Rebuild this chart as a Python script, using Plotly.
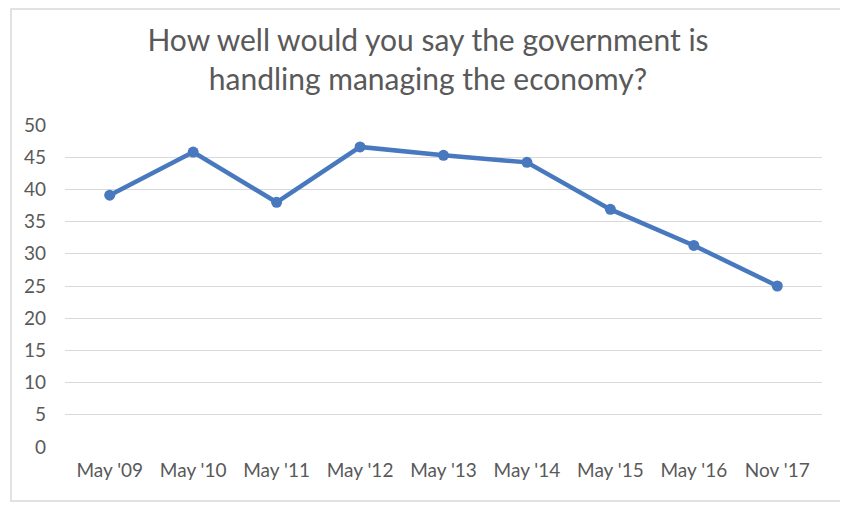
import plotly.graph_objects as go

# survey waves and share of respondents saying "well" (%)
waves = ["May '09", "May '10", "May '11", "May '12", "May '13",
         "May '14", "May '15", "May '16", "Nov '17"]
share_well = [39.1, 45.8, 38.0, 46.6, 45.3, 44.2, 36.9, 31.3, 25.0]

y_ticks = [0, 5, 10, 15, 20, 25, 30, 35, 40, 45, 50]

LINE_BLUE = "#4878BE"
TEXT_GREY = "#595959"
GRID_GREY = "#D9D9D9"
FONT = "Lato"

# the page body adds an 8px margin, so the figure is a little smaller
FIG_W, FIG_H = 840, 507

fig = go.Figure()
fig.add_trace(go.Scatter(
    x=waves, y=share_well, mode="lines+markers",
    line=dict(color=LINE_BLUE, width=4.5),
    marker=dict(color=LINE_BLUE, size=11),
    hoverinfo="x+y", showlegend=False,
))

fig.update_layout(
    width=FIG_W, height=FIG_H,
    margin=dict(l=57, r=26, t=117, b=68),
    paper_bgcolor="white", plot_bgcolor="white",
    font=dict(family=FONT, color=TEXT_GREY),
    title=dict(
        text="How well would you say the government is<br>handling managing the economy?",
        x=0.5, xanchor="center", y=0.915, yanchor="middle",
        font=dict(family=FONT, size=30, color=TEXT_GREY),
    ),
)
fig.update_xaxes(
    showgrid=False, showline=False, zeroline=False,
    tickfont=dict(size=19, color=TEXT_GREY),
    ticklabelstandoff=10,
)
fig.update_yaxes(
    range=[0, 50], tickvals=y_ticks, showgrid=True, gridcolor=GRID_GREY,
    gridwidth=1.3, zeroline=False, showline=False,
    tickfont=dict(size=19, color=TEXT_GREY),
    ticklabelstandoff=18,
)

# light frame round the whole chart, as in the original image
plot_w = FIG_W - 57 - 26
plot_h = FIG_H - 117 - 68
fig.add_shape(type="rect", xref="paper", yref="paper",
              x0=-54 / plot_w, x1=1 + 23 / plot_w,
              y0=-54 / plot_h, y1=1 + 116 / plot_h,
              line=dict(color="#D9D9D9", width=1.5), layer="below")

fig.write_html("out.html")
